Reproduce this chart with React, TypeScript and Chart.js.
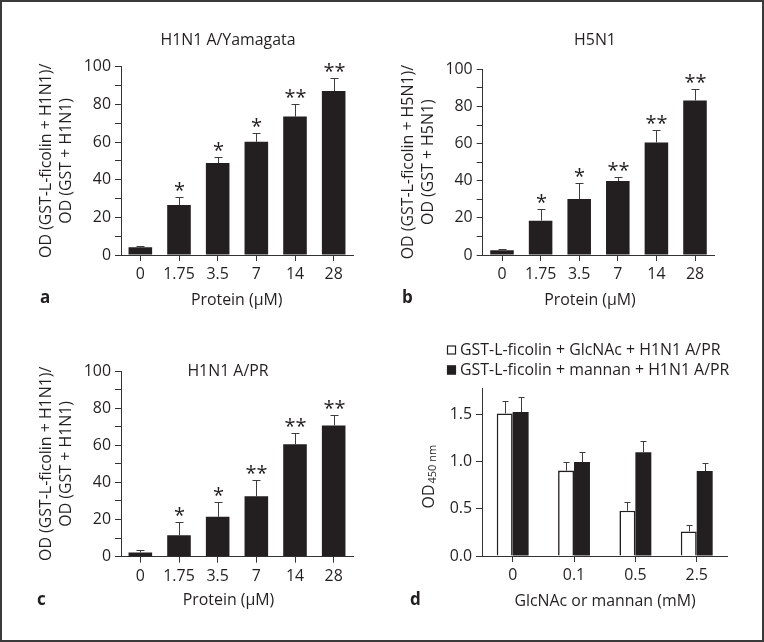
import React, { useEffect, useRef } from 'react';
import { Chart, registerables } from 'chart.js';

Chart.register(...registerables);

// ---------- data ----------
const proteinLabels = ['0', '1.75', '3.5', '7', '14', '28'];
const percentTicks = [0, 10, 20, 30, 40, 50, 60, 70, 80, 90, 100];
const percentLabelled = [0, 20, 40, 60, 80, 100];

const yamagataMeans = [4.1, 26.5, 48.8, 60.1, 73.5, 87.1];
const yamagataUpper = [5.0, 30.6, 52.3, 65.0, 80.0, 94.2];
const yamagataStars = ['', '*', '*', '*', '**', '**'];

const h5n1Means = [2.5, 18.5, 30.1, 39.8, 60.6, 83.2];
const h5n1Upper = [3.2, 25.0, 39.0, 42.0, 67.4, 89.2];
const h5n1Stars = ['', '*', '*', '**', '**', '**'];

const prMeans = [2.3, 11.5, 21.5, 32.5, 60.5, 70.7];
const prUpper = [3.4, 18.5, 29.3, 41.1, 66.4, 76.5];
const prStars = ['', '*', '*', '**', '**', '**'];

const inhibitorLabels = ['0', '0.1', '0.5', '2.5'];
const odTicks = [0, 0.5, 1.0, 1.5];
const glcnacMeans = [1.51, 0.905, 0.48, 0.26];
const glcnacUpper = [1.64, 1.0, 0.57, 0.325];
const mannanMeans = [1.525, 0.995, 1.1, 0.9];
const mannanUpper = [1.68, 1.1, 1.22, 0.99];

// ---------- style ----------
const FONT = "'Open Sans', 'Noto Sans', 'DejaVu Sans', sans-serif";
const INK = '#231f20';
const AXIS = '#333333';
const ERR = '#3d3d3d';
const FS = 15.9;

type TextItem = { text: string; x: number; y: number; size?: number; bold?: boolean; align?: CanvasTextAlign; baseline?: CanvasTextBaseline };

function textPlugin(items: TextItem[]) {
  return {
    id: 'panelText',
    afterDraw(chart: any) {
      const ctx = chart.ctx;
      items.forEach((it) => {
        ctx.save();
        ctx.font = `${it.bold ? 'bold ' : ''}${it.size || FS}px ${FONT}`;
        ctx.fillStyle = INK;
        ctx.textAlign = it.align || 'center';
        ctx.textBaseline = it.baseline || 'middle';
        ctx.fillText(it.text, it.x, it.y);
        ctx.restore();
      });
    },
  };
}

function errorBarPlugin(capHalf: number) {
  return {
    id: 'errorBars',
    afterDatasetsDraw(chart: any) {
      const ctx = chart.ctx;
      const yScale = chart.scales.y;
      chart.data.datasets.forEach((ds: any, i: number) => {
        const upper: number[] = ds.errorUpper;
        const stars: string[] | undefined = ds.stars;
        if (!upper) return;
        const meta = chart.getDatasetMeta(i);
        meta.data.forEach((el: any, j: number) => {
          const x = Math.round(el.x) + 0.5;
          const yTop = el.y;
          const yCap = Math.round(yScale.getPixelForValue(upper[j])) + 0.5;
          ctx.save();
          ctx.strokeStyle = ERR;
          ctx.lineWidth = 1;
          ctx.beginPath();
          ctx.moveTo(x, yTop);
          ctx.lineTo(x, yCap);
          ctx.moveTo(x - capHalf, yCap);
          ctx.lineTo(x + capHalf, yCap);
          ctx.stroke();
          if (stars && stars[j]) {
            ctx.font = `20px ${FONT}`;
            ctx.fillStyle = INK;
            ctx.textAlign = 'center';
            ctx.textBaseline = 'alphabetic';
            ctx.fillText(stars[j], x, yCap - 0.5);
          }
          ctx.restore();
        });
      });
    },
  };
}

const legendPlugin = (x: number, y: number, rowGap: number) => ({
  id: 'customLegend',
  afterDraw(chart: any) {
    const ctx = chart.ctx;
    chart.data.datasets.forEach((ds: any, i: number) => {
      const cy = y + i * rowGap;
      ctx.save();
      ctx.fillStyle = ds.backgroundColor;
      ctx.fillRect(x, cy - 4.5, 9, 9);
      ctx.strokeStyle = INK;
      ctx.lineWidth = 1.2;
      ctx.strokeRect(x + 0.5, cy - 4, 8, 8);
      ctx.font = `${FS}px ${FONT}`;
      ctx.fillStyle = INK;
      ctx.textAlign = 'left';
      ctx.textBaseline = 'middle';
      ctx.fillText(ds.label, x + 13, cy);
      ctx.restore();
    });
  },
});

const odTitlePlugin = (cx: number, cy: number) => ({
  id: 'odTitle',
  afterDraw(chart: any) {
    const ctx = chart.ctx;
    ctx.save();
    ctx.translate(cx, cy);
    ctx.rotate(-Math.PI / 2);
    ctx.fillStyle = INK;
    ctx.textBaseline = 'alphabetic';
    ctx.textAlign = 'left';
    ctx.font = `${FS}px ${FONT}`;
    const w1 = ctx.measureText('OD').width;
    ctx.font = `11px ${FONT}`;
    const w2 = ctx.measureText('450 nm').width;
    const total = w1 + 1 + w2;
    ctx.font = `${FS}px ${FONT}`;
    ctx.fillText('OD', -total / 2, 6);
    ctx.font = `11px ${FONT}`;
    ctx.fillText('450 nm', -total / 2 + w1 + 1, 7.5);
    ctx.restore();
  },
});

function axisCommon() {
  return {
    grid: { display: true, drawOnChartArea: false, drawTicks: true, tickLength: 6, color: AXIS, lineWidth: 1, offset: false },
    border: { display: true, color: AXIS, width: 1 },
  };
}

type Layout = { w: number; h: number; padTop: number; padRight: number; yWidth: number; xHeight: number };

function xScale(l: Layout) {
  return {
    type: 'category',
    offset: true,
    afterFit: (s: any) => { s.height = l.xHeight; },
    ...axisCommon(),
    ticks: { color: INK, font: { family: FONT, size: FS }, padding: 4, autoSkip: false, maxRotation: 0 },
  };
}

function percentConfig(l: Layout, means: number[], upper: number[], stars: string[], yTitle: string[], yTitlePad: number, texts: TextItem[]) {
  return {
    type: 'bar',
    data: {
      labels: proteinLabels,
      datasets: [{
        data: means,
        errorUpper: upper,
        stars,
        backgroundColor: INK,
        borderWidth: 0,
        barPercentage: 0.61,
        categoryPercentage: 1,
      }],
    },
    options: {
      responsive: false,
      animation: false,
      devicePixelRatio: 1,
      layout: { padding: { top: l.padTop, right: l.padRight, left: 0, bottom: 0 } },
      plugins: { legend: { display: false }, tooltip: { enabled: false }, title: { display: false } },
      scales: {
        x: xScale(l),
        y: {
          type: 'linear',
          min: 0,
          max: 100,
          afterFit: (s: any) => { s.width = l.yWidth; },
          afterBuildTicks: (s: any) => { s.ticks = percentTicks.map((v) => ({ value: v })); },
          ...axisCommon(),
          ticks: {
            color: INK,
            font: { family: FONT, size: FS },
            padding: 4,
            autoSkip: false,
            callback: (v: number) => (percentLabelled.includes(v) ? String(v) : ''),
          },
          title: {
            display: true,
            text: yTitle,
            color: INK,
            font: { family: FONT, size: FS, lineHeight: 1.258 },
            padding: { top: yTitlePad, bottom: 0 },
          },
        },
      },
    },
    plugins: [errorBarPlugin(4), textPlugin(texts)],
  };
}

function inhibitionConfig(l: Layout) {
  return {
    type: 'bar',
    data: {
      labels: inhibitorLabels,
      datasets: [
        {
          label: 'GST-L-ficolin + GlcNAc + H1N1 A/PR',
          data: glcnacMeans,
          errorUpper: glcnacUpper,
          backgroundColor: '#ffffff',
          borderColor: INK,
          borderWidth: 1.6,
          barPercentage: 1,
          categoryPercentage: 0.52,
        },
        {
          label: 'GST-L-ficolin + mannan + H1N1 A/PR',
          data: mannanMeans,
          errorUpper: mannanUpper,
          backgroundColor: INK,
          borderWidth: 0,
          barPercentage: 1,
          categoryPercentage: 0.52,
        },
      ],
    },
    options: {
      responsive: false,
      animation: false,
      devicePixelRatio: 1,
      layout: { padding: { top: l.padTop, right: l.padRight, left: 0, bottom: 0 } },
      plugins: { legend: { display: false }, tooltip: { enabled: false }, title: { display: false } },
      scales: {
        x: xScale(l),
        y: {
          type: 'linear',
          min: 0,
          max: 1.78,
          afterFit: (s: any) => { s.width = l.yWidth; },
          afterBuildTicks: (s: any) => { s.ticks = odTicks.map((v) => ({ value: v })); },
          ...axisCommon(),
          ticks: {
            color: INK,
            font: { family: FONT, size: FS },
            padding: 4,
            autoSkip: false,
            callback: (v: number) => Number(v).toFixed(1),
          },
        },
      },
    },
    plugins: [
      errorBarPlugin(3),
      legendPlugin(67, 30, 20),
      odTitlePlugin(48.3, 156.7),
      textPlugin([
        { text: 'GlcNAc or mannan (mM)', x: 225, y: 281 },
        { text: 'd', x: 30, y: 285, bold: true, align: 'left', baseline: 'alphabetic', size: 17 },
      ]),
    ],
  };
}

function Panel({ left, top, layout, make }: { left: number; top: number; layout: Layout; make: () => any }) {
  const ref = useRef<HTMLCanvasElement>(null);
  useEffect(() => {
    const chart = new Chart(ref.current as HTMLCanvasElement, make());
    return () => chart.destroy();
  }, []);
  return (
    <canvas
      ref={ref}
      width={layout.w}
      height={layout.h}
      style={{ position: 'absolute', left, top, width: layout.w, height: layout.h }}
    />
  );
}

const layoutA: Layout = { w: 380, h: 320, padTop: 66.7, padRight: 27, yWidth: 121, xHeight: 65 };
const layoutB: Layout = { w: 384, h: 320, padTop: 69.3, padRight: 49.7, yWidth: 102.7, xHeight: 65 };
const layoutC: Layout = { w: 380, h: 322, padTop: 51, padRight: 27, yWidth: 121, xHeight: 85.3 };
const layoutD: Layout = { w: 384, h: 322, padTop: 68, padRight: 36.6, yWidth: 102, xHeight: 86 };

export default function App() {
  return (
    <div style={{ position: 'fixed', left: 0, top: 0, width: 764, height: 642, background: '#fff', overflow: 'hidden' }}>
      <Panel
        left={0}
        top={0}
        layout={layoutA}
        make={() =>
          percentConfig(layoutA, yamagataMeans, yamagataUpper, yamagataStars,
            ['OD (GST-L-ficolin + H1N1)/', 'OD (GST + H1N1)'], 36.7, [
              { text: 'H1N1 A/Yamagata', x: 228, y: 40.7 },
              { text: 'Protein (μM)', x: 236.7, y: 300 },
              { text: 'a', x: 40, y: 302.7, bold: true, align: 'left', baseline: 'alphabetic', size: 17 },
            ])
        }
      />
      <Panel
        left={380}
        top={0}
        layout={layoutB}
        make={() =>
          percentConfig(layoutB, h5n1Means, h5n1Upper, h5n1Stars,
            ['OD (GST-L-ficolin + H5N1)/', 'OD (GST + H5N1)'], 18.3, [
              { text: 'H5N1', x: 215, y: 40.7 },
              { text: 'Protein (μM)', x: 210, y: 300 },
              { text: 'b', x: 22, y: 302.7, bold: true, align: 'left', baseline: 'alphabetic', size: 17 },
            ])
        }
      />
      <Panel
        left={0}
        top={320}
        layout={layoutC}
        make={() =>
          percentConfig(layoutC, prMeans, prUpper, prStars,
            ['OD (GST-L-ficolin + H1N1)/', 'OD (GST + H1N1)'], 36.7, [
              { text: 'H1N1 A/PR', x: 228, y: 51.7 },
              { text: 'Protein (μM)', x: 228.5, y: 280 },
              { text: 'c', x: 37, y: 285, bold: true, align: 'left', baseline: 'alphabetic', size: 17 },
            ])
        }
      />
      <Panel left={380} top={320} layout={layoutD} make={() => inhibitionConfig(layoutD)} />
      <div
        style={{
          position: 'absolute', left: 0, top: 0, width: 764, height: 642, boxSizing: 'border-box',
          border: '2px solid #3a3a3a', pointerEvents: 'none',
        }}
      />
    </div>
  );
}
